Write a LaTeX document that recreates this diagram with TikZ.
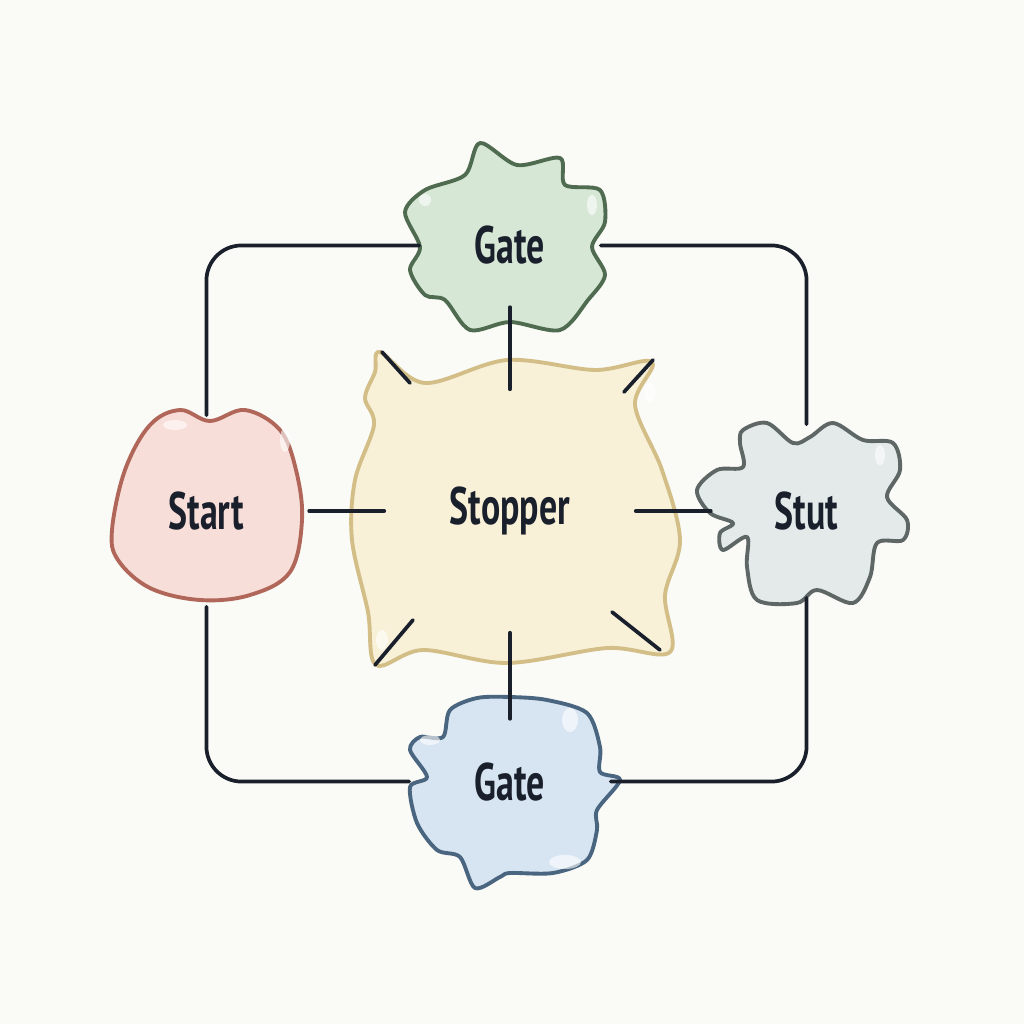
\documentclass[tikz,border=0pt]{standalone}
\usepackage{fontspec}
\setmainfont{PT Sans}[FakeStretch=0.68]
\usepackage{tikz}
\usetikzlibrary{positioning}

\definecolor{bgcol}{HTML}{FAFAF6}
\definecolor{inkcol}{HTML}{1A1F2C}
\definecolor{startfill}{HTML}{F8DED9}
\definecolor{startline}{HTML}{B0675A}
\definecolor{stopfill}{HTML}{F8F1D8}
\definecolor{stopline}{HTML}{D2BE86}
\definecolor{gatefill}{HTML}{D6E7D6}
\definecolor{gateline}{HTML}{4F6B50}
\definecolor{stutfill}{HTML}{E4EAEA}
\definecolor{stutline}{HTML}{5E6666}
\definecolor{gbotfill}{HTML}{D6E5F1}
\definecolor{gbotline}{HTML}{4A6580}

\begin{document}
\begin{tikzpicture}[x=0.01cm, y=-0.01cm,
    lbl/.style={draw=none, inner sep=0pt, text=inkcol, font=\bfseries\fontsize{15}{17}\selectfont},
    link/.style={draw=inkcol, line width=1.05pt, line cap=round},
    blob/.style={line width=1.1pt, line join=round},
    shine/.style={white, opacity=0.6}]
    \fill[bgcol] (0,0) rectangle (1024,1024);
    \useasboundingbox (0,0) rectangle (1024,1024);

    % blobs
    \filldraw[blob, fill=stopfill, draw=stopline] plot[smooth cycle, tension=0.55] coordinates {
        (380,352) (425,383) (507,360) (595,370) (652,362) (635,405) (662,470) (680,540)
        (665,595) (670,652) (607,648) (507,663) (423,650) (376,665) (368,612) (352,540)
        (355,480) (374,425) (365,398) (375,372)};
    \filldraw[blob, fill=startfill, draw=startline] plot[smooth cycle, tension=0.6] coordinates {
        (210,421) (245,410) (280,430) (296,470) (302,520) (290,572) (250,595) (200,600)
        (150,588) (118,560) (112,530) (125,470) (150,425) (180,410)};
    \filldraw[blob, fill=gatefill, draw=gateline] plot[smooth cycle, tension=0.5] coordinates {
        (480,143) (517,165) (560,158) (565,185) (600,190) (605,222) (592,247) (605,275)
        (588,300) (560,330) (510,322) (470,330) (445,300) (425,295) (410,270) (420,247)
        (405,212) (425,190) (465,175)};
    \filldraw[blob, fill=stutfill, draw=stutline] plot[smooth cycle, tension=0.55] coordinates {
        (743,430) (767,423) (793,443) (810,437) (833,423) (863,440) (893,443) (900,470)
        (887,497) (907,520) (903,540) (877,543) (870,577) (853,603) (817,590) (797,603)
        (757,600) (747,567) (747,537) (723,550) (720,533) (733,523) (710,513) (697,490)
        (717,470) (743,467) (740,443)};
    \filldraw[blob, fill=gbotfill, draw=gbotline] plot[smooth cycle, tension=0.5] coordinates {
        (510,697) (547,700) (587,713) (600,747) (600,772) (620,780) (597,810) (597,830)
        (587,860) (553,873) (510,873) (500,877) (475,888) (460,857) (437,850) (417,823)
        (410,787) (427,777) (410,750) (420,737) (443,737) (450,710) (477,698)};

    % highlights
    \fill[shine] (175,425) ellipse (12 and 5);
    \fill[shine] (285,440) ellipse (5 and 12);
    \fill[shine] (592,205) ellipse (5 and 10);
    \fill[shine] (425,200) ellipse (6 and 6);
    \fill[shine] (880,455) ellipse (5 and 10);
    \fill[shine] (430,740) ellipse (10 and 5);
    \fill[shine] (570,720) ellipse (8 and 12);
    \fill[shine] (565,862) ellipse (16 and 7);
    \fill[shine] (650,392) ellipse (6 and 10);
    \fill[shine] (382,640) ellipse (6 and 10);

    % nodes
    \node[lbl, minimum width=2.5cm, minimum height=2.42cm] (stopper) at (510,511) {Stopper};
    \node[lbl, minimum width=1.8cm, minimum height=1.22cm, above=0.82cm of stopper] (gtop) {Gate};
    \node[lbl, minimum width=2.0cm, minimum height=1.24cm, below=0.86cm of stopper] (gbot) {Gate};
    \node[lbl, minimum width=2.04cm, minimum height=1.9cm, left=0.75cm of stopper] (start) {Start};
    \node[lbl, minimum width=1.9cm, minimum height=1.72cm, right=0.75cm of stopper] (stut) {Stut};

    % links
    \draw[link] (gtop) -- (stopper);
    \draw[link] (stopper) -- (gbot);
    \draw[link] (start) -- (stopper);
    \draw[link] (stopper) -- (stut);
    \draw[link, rounded corners=10pt] (gtop.west) -| (start.north);
    \draw[link, rounded corners=10pt] (gtop.east) -| (stut.north);
    \draw[link, rounded corners=10pt] (gbot.west) -| (start.south);
    \draw[link, rounded corners=10pt] (gbot.east) -| (stut.south);

    % ticks round the stopper
    \foreach \ax/\ay/\bx/\by in {-100/-128/-128/-159, 114/-119/143/-151, -97/109/-135/154, 102/101/150/139}
        \draw[link] ([shift={(\ax,\ay)}]stopper.center) -- ([shift={(\bx,\by)}]stopper.center);
\end{tikzpicture}
\end{document}
